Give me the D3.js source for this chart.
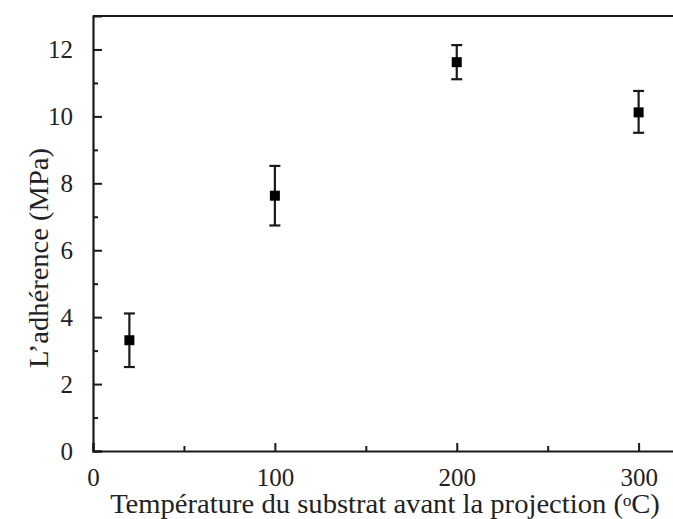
<!DOCTYPE html>
<html><head><meta charset="utf-8">
<script src="https://cdn.jsdelivr.net/npm/d3@7"></script>
<style>html,body{margin:0;padding:0;background:#fff;} svg{display:block;} text{font-family:"Liberation Serif","Times New Roman",Times,serif;}</style>
</head><body>
<script>
const temps = [20, 100, 200, 300];
const adherence = [3.31, 7.63, 11.62, 10.12];
const errLow = [2.51, 6.74, 11.11, 9.51];
const errHigh = [4.11, 8.52, 12.13, 10.76];
const xMajorTicks = [0, 100, 200, 300];
const xMinorTicks = [50, 150, 250];
const yMajorTicks = [0, 2, 4, 6, 8, 10, 12];
const yMinorTicks = [1, 3, 5, 7, 9, 11];
const xTitle = "Température du substrat avant la projection (ᵒC)";
const yTitle = "L’adhérence (MPa)";

(function () {
const W = 673, H = 519;
const svg = d3.select("body").append("svg").attr("width", W).attr("height", H);
const mLeft = 93, mRight = 675, mTop = 16, mBottom = 451;
const x = d3.scaleLinear().domain([0, 320]).range([mLeft, mRight]);
const y = d3.scaleLinear().domain([0, 13]).range([mBottom, mTop]);
const ink = "#1a1a1a";
const txt = "#222";

svg.append("line").attr("x1", mLeft).attr("x2", W).attr("y1", mTop).attr("y2", mTop).attr("stroke", ink).attr("stroke-width", 2);

const yAxis = d3.axisLeft(y).tickValues(yMajorTicks).tickSize(-9).tickPadding(20).tickFormat(d3.format("d"));
const gy = svg.append("g").attr("transform", `translate(${mLeft},0)`).call(yAxis);
gy.attr("font-family", null).attr("font-size", null);
gy.select(".domain").attr("stroke", ink).attr("stroke-width", 2.2);
gy.selectAll(".tick line").attr("stroke", ink).attr("stroke-width", 2);
gy.selectAll(".tick text").style("font-size", "25px").attr("fill", txt);
const gym = svg.append("g").attr("transform", `translate(${mLeft},0)`)
  .call(d3.axisLeft(y).tickValues(yMinorTicks).tickSize(-5).tickFormat(""));
gym.select(".domain").remove();
gym.selectAll(".tick line").attr("stroke", ink).attr("stroke-width", 2);

const xAxis = d3.axisBottom(x).tickValues(xMajorTicks).tickSize(-8).tickPadding(17).tickFormat(d3.format("d"));
const gx = svg.append("g").attr("transform", `translate(0,${mBottom})`).call(xAxis);
gx.attr("font-family", null).attr("font-size", null);
gx.select(".domain").attr("stroke", ink).attr("stroke-width", 2.2);
gx.selectAll(".tick line").attr("stroke", ink).attr("stroke-width", 2);
gx.selectAll(".tick text").style("font-size", "25px").attr("fill", txt);
const gxm = svg.append("g").attr("transform", `translate(0,${mBottom})`)
  .call(d3.axisBottom(x).tickValues(xMinorTicks).tickSize(-5).tickFormat(""));
gxm.select(".domain").remove();
gxm.selectAll(".tick line").attr("stroke", ink).attr("stroke-width", 2);

const pts = temps.map((t, i) => ({t, v: adherence[i], lo: errLow[i], hi: errHigh[i]}));
const eb = svg.append("g");
eb.selectAll("line.v").data(pts).join("line").attr("class", "v")
  .attr("x1", d => x(d.t)).attr("x2", d => x(d.t)).attr("y1", d => y(d.lo)).attr("y2", d => y(d.hi))
  .attr("stroke", ink).attr("stroke-width", 2.2);
eb.selectAll("line.ch").data(pts).join("line").attr("class", "ch")
  .attr("x1", d => x(d.t) - 5.5).attr("x2", d => x(d.t) + 5.5).attr("y1", d => y(d.hi)).attr("y2", d => y(d.hi))
  .attr("stroke", ink).attr("stroke-width", 2.2);
eb.selectAll("line.cl").data(pts).join("line").attr("class", "cl")
  .attr("x1", d => x(d.t) - 5.5).attr("x2", d => x(d.t) + 5.5).attr("y1", d => y(d.lo)).attr("y2", d => y(d.lo))
  .attr("stroke", ink).attr("stroke-width", 2.2);
svg.append("g").selectAll("rect").data(pts).join("rect")
  .attr("x", d => x(d.t) - 5).attr("y", d => y(d.v) - 5).attr("width", 10).attr("height", 10)
  .attr("fill", "#000");

// x title
const xt = svg.append("text").attr("x", 385).attr("y", 513).attr("text-anchor", "middle")
  .style("font-size", "27px").attr("fill", txt).text(xTitle);
const xw = xt.node().getComputedTextLength();
xt.attr("transform", `translate(385,0) scale(${550 / xw},1) translate(-385,0)`);

// y title
const yt = svg.append("text").attr("transform", "translate(48,258) rotate(-90)").attr("text-anchor", "middle")
  .style("font-size", "27px").attr("fill", txt).text(yTitle);
const yw = yt.node().getComputedTextLength();
yt.attr("transform", `translate(48,258) rotate(-90) scale(${220 / yw},1)`);
})();
</script>
</body></html>
